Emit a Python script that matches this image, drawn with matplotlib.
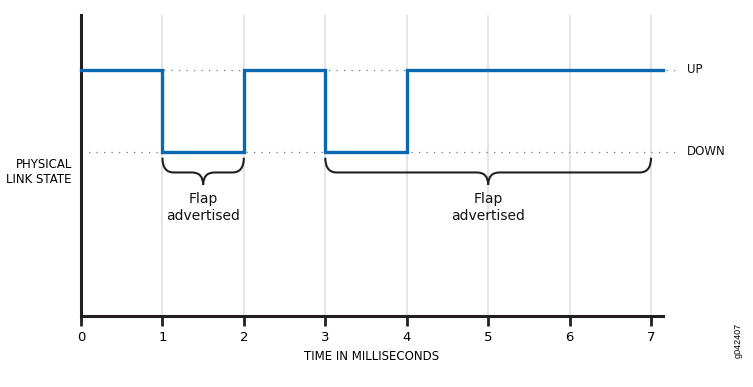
import matplotlib
matplotlib.use("Agg")
import matplotlib.pyplot as plt
from matplotlib.path import Path
from matplotlib.patches import PathPatch

# Data
state_times = [0, 1, 1, 2, 2, 3, 3, 4, 4, 7.15]
state_values = [3, 3, 2, 2, 3, 3, 2, 2, 3, 3]
level_names = ["UP", "DOWN"]
level_values = [3, 2]
x_ticks = [0, 1, 2, 3, 4, 5, 6, 7]
flap_spans = [(1, 2), (3, 7)]
flap_label = "Flap\nadvertised"

BLUE = "#0a68b0"
DARK = "#231f20"
LABEL_FONT = ["DejaVu Sans"]

fig = plt.figure(figsize=(7.53, 3.87), dpi=100)
ax = fig.add_axes([81/753, 1-316/387, (663-81)/753, (316-15)/387])
ax.set_xlim(0, 7.147)
ax.set_ylim(0, 3.67)

# vertical grid lines
for t in x_ticks[1:]:
    ax.axvline(t, color="#e3e3e3", lw=1.3, zorder=0)

# dotted level lines
for name, v in zip(level_names, level_values):
    ax.plot([0, 7.36], [v, v], color="#777777", lw=0.9, ls=(0, (1, 5)), clip_on=False, zorder=1)
    ax.text(7.44, v, name, ha="left", va="center", fontsize=8.5, family=LABEL_FONT, color="#111111")

# signal
ax.plot(state_times, state_values, color=BLUE, lw=2.4, solid_joinstyle="miter", zorder=3, clip_on=False)

# braces
def brace(a, b, yt=1.93, ym=1.75, yp=1.60, r=0.14):
    c = (a + b) / 2
    verts = [(a, yt), (a, ym), (a + r, ym),
             (c - r, ym), (c, ym), (c, yp),
             (c, ym), (c + r, ym),
             (b - r, ym), (b, ym), (b, yt)]
    codes = [Path.MOVETO, Path.CURVE3, Path.CURVE3,
             Path.LINETO, Path.CURVE3, Path.CURVE3,
             Path.CURVE3, Path.CURVE3,
             Path.LINETO, Path.CURVE3, Path.CURVE3]
    return PathPatch(Path(verts, codes), fill=False, lw=1.5, ec=DARK, zorder=4)

for a, b in flap_spans:
    ax.add_patch(brace(a, b))
    ax.text((a + b) / 2, 1.32, flap_label, ha="center", va="center", fontsize=10,
            linespacing=1.25, family=["DejaVu Sans"], color="#111111")

# spines and ticks
for s in ["top", "right"]:
    ax.spines[s].set_visible(False)
for s in ["left", "bottom"]:
    ax.spines[s].set_linewidth(2.2)
    ax.spines[s].set_color(DARK)
ax.set_yticks([])
ax.set_xticks(x_ticks)
ax.set_xticklabels([str(t) for t in x_ticks], fontsize=9.5, family=LABEL_FONT)
ax.tick_params(axis="x", direction="out", length=7, width=2, color=DARK, pad=4)

ax.set_xlabel("TIME IN MILLISECONDS", fontsize=8.5, family=LABEL_FONT, labelpad=4)
fig.text(72/753, 1-172/387, "PHYSICAL\nLINK STATE", ha="right", va="center",
         fontsize=8.5, family=LABEL_FONT, linespacing=1.15)
fig.text(738/753, 1-340/387, "g042407", rotation=90, ha="center", va="center",
         fontsize=6.5, family=["Liberation Sans"])

fig.savefig("out.png", dpi=100)
